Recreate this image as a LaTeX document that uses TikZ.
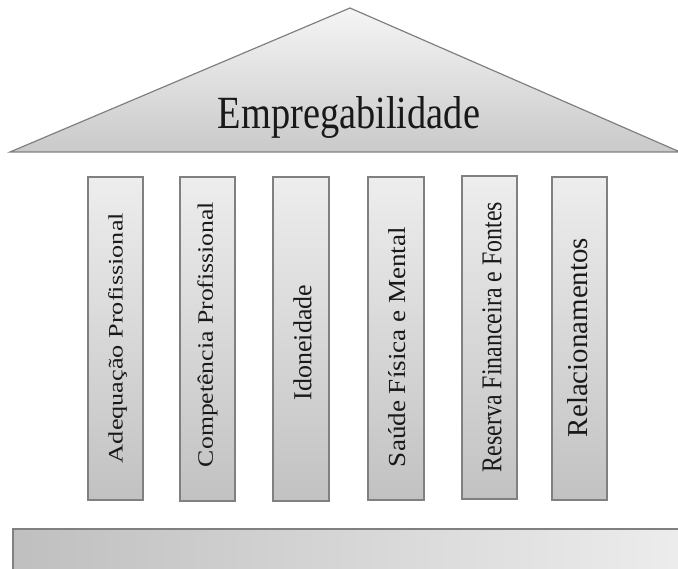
\documentclass[tikz,border=0pt]{standalone}
\usepackage{fontspec}
\setmainfont{Liberation Serif}
\usepackage{graphicx}
\begin{document}
\begin{tikzpicture}[x=1pt,y=-1pt,
  roofstyle/.style={draw=gray, line width=1.2pt, line join=miter, top color=gray!8, bottom color=gray!42},
  pillar/.style={draw=gray, line width=1.1pt, top color=gray!14, bottom color=gray!48, inner sep=0pt, minimum width=55pt},
  basestyle/.style={draw=gray, line width=1.2pt, left color=gray!50, right color=gray!14},
  coltext/.style={rotate=90, inner sep=0pt, text=black!90},
  titletext/.style={inner sep=0pt, anchor=base, text=black!90}]
\useasboundingbox (0,0) rectangle (678,569);
% roof
\path[roofstyle] (10,152) -- (350,8) -- (680,152) -- cycle;
\node[titletext] (title) at (349,129) {\resizebox{262pt}{32pt}{Empregabilidade}};
% pillars
\node[pillar, minimum height=323pt] (c1) at (115.5,338.5) {};
\node[pillar, minimum height=324pt] (c2) at (207.5,339) {};
\node[pillar, minimum width=56pt, minimum height=324pt] (c3) at (301,339) {};
\node[pillar, minimum width=56pt, minimum height=323pt] (c4) at (396,338.5) {};
\node[pillar, minimum height=323pt] (c5) at (489.5,337.5) {};
\node[pillar, minimum height=323pt] (c6) at (579.5,338.5) {};
% pillar labels
\node[coltext] (t1) at (117.5,338) {\resizebox{250pt}{14.5pt}{Adequação Profissional}};
\node[coltext] (t2) at (207.5,334.5) {\resizebox{265pt}{15.5pt}{Competência Profissional}};
\node[coltext] (t3) at (302.5,342.5) {\resizebox{115pt}{18pt}{Idoneidade}};
\node[coltext] (t4) at (397.5,347) {\resizebox{240pt}{17pt}{Saúde Física e Mental}};
\node[coltext] (t5) at (492,337) {\resizebox{270pt}{19pt}{Reserva Financeira e Fontes}};
\node[coltext] (t6) at (578,337.5) {\resizebox{199pt}{20pt}{Relacionamentos}};
% base
\path[basestyle] (13,529) rectangle (690,590);
\end{tikzpicture}
\end{document}
